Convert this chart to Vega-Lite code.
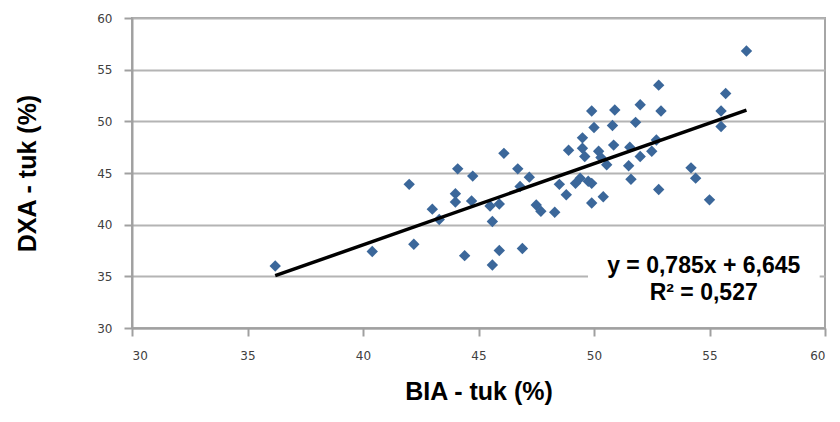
{
  "$schema": "https://vega.github.io/schema/vega-lite/v6.json",
  "width": 693,
  "height": 310,
  "autosize": "none",
  "padding": {"left": 132, "top": 18, "right": 15, "bottom": 94},
  "background": "white",
  "config": {
    "view": {"stroke": "#a6a6a6", "strokeWidth": 2},
    "axis": {
      "labelFont": "DejaVu Sans",
      "labelFontSize": 12,
      "labelColor": "#404040",
      "titleFont": "Liberation Sans",
      "titleFontWeight": "bold",
      "titleFontSize": 25,
      "titleColor": "#000000",
      "domainColor": "#a0a0a0",
      "domainWidth": 2,
      "tickColor": "#a0a0a0",
      "tickWidth": 2,
      "tickSize": 8,
      "gridColor": "#b4b4b4",
      "gridWidth": 2
    }
  },
  "datasets": {
    "points": [
      {"bia": 36.2, "dxa": 36.0}, {"bia": 40.4, "dxa": 37.4}, {"bia": 42.0, "dxa": 43.9},
      {"bia": 42.2, "dxa": 38.1}, {"bia": 43.0, "dxa": 41.5}, {"bia": 43.3, "dxa": 40.5},
      {"bia": 44.0, "dxa": 43.0}, {"bia": 44.0, "dxa": 42.2}, {"bia": 44.1, "dxa": 45.4},
      {"bia": 44.4, "dxa": 37.0}, {"bia": 44.75, "dxa": 44.7}, {"bia": 44.7, "dxa": 42.3},
      {"bia": 45.5, "dxa": 41.8}, {"bia": 45.6, "dxa": 40.3}, {"bia": 45.6, "dxa": 36.1},
      {"bia": 45.9, "dxa": 42.0}, {"bia": 45.9, "dxa": 37.5}, {"bia": 46.1, "dxa": 46.9},
      {"bia": 46.7, "dxa": 45.4}, {"bia": 46.8, "dxa": 43.7}, {"bia": 46.9, "dxa": 37.7},
      {"bia": 47.2, "dxa": 44.6}, {"bia": 47.5, "dxa": 41.9}, {"bia": 47.7, "dxa": 41.3},
      {"bia": 48.3, "dxa": 41.2}, {"bia": 48.5, "dxa": 43.9}, {"bia": 48.8, "dxa": 42.9},
      {"bia": 48.9, "dxa": 47.2}, {"bia": 49.2, "dxa": 44.0}, {"bia": 49.4, "dxa": 44.5},
      {"bia": 49.5, "dxa": 48.4}, {"bia": 49.5, "dxa": 47.4}, {"bia": 49.6, "dxa": 46.6},
      {"bia": 49.75, "dxa": 44.2}, {"bia": 49.9, "dxa": 44.0}, {"bia": 49.9, "dxa": 42.1},
      {"bia": 49.9, "dxa": 51.0}, {"bia": 50.0, "dxa": 49.4}, {"bia": 50.2, "dxa": 47.1},
      {"bia": 50.3, "dxa": 46.5}, {"bia": 50.4, "dxa": 42.7}, {"bia": 50.55, "dxa": 45.8},
      {"bia": 50.8, "dxa": 49.6}, {"bia": 50.85, "dxa": 47.7}, {"bia": 50.9, "dxa": 51.1},
      {"bia": 51.5, "dxa": 45.7}, {"bia": 51.55, "dxa": 47.5}, {"bia": 51.6, "dxa": 44.4},
      {"bia": 51.8, "dxa": 49.9}, {"bia": 52.0, "dxa": 51.6}, {"bia": 52.0, "dxa": 46.6},
      {"bia": 52.5, "dxa": 47.1}, {"bia": 52.7, "dxa": 48.2}, {"bia": 52.8, "dxa": 53.5},
      {"bia": 52.8, "dxa": 43.4}, {"bia": 52.9, "dxa": 51.0}, {"bia": 54.2, "dxa": 45.5},
      {"bia": 54.4, "dxa": 44.5}, {"bia": 55.0, "dxa": 42.4}, {"bia": 55.5, "dxa": 51.0},
      {"bia": 55.5, "dxa": 49.5}, {"bia": 55.7, "dxa": 52.7}, {"bia": 56.6, "dxa": 56.8}
    ],
    "trend": [
      {"bia": 36.2, "dxa": 35.06},
      {"bia": 56.6, "dxa": 51.08}
    ]
  },
  "layer": [
    {
      "data": {"name": "points"},
      "mark": {"type": "point", "shape": "diamond", "filled": true, "size": 130, "color": "#3b679a", "opacity": 1},
      "encoding": {
        "x": {
          "field": "bia", "type": "quantitative",
          "scale": {"domain": [30, 60], "nice": false, "zero": false},
          "axis": {"title": "BIA - tuk (%)", "values": [30, 35, 40, 45, 50, 55, 60], "grid": false, "labelPadding": 14, "titlePadding": 18}
        },
        "y": {
          "field": "dxa", "type": "quantitative",
          "scale": {"domain": [30, 60], "nice": false, "zero": false},
          "axis": {"title": "DXA - tuk (%)", "values": [30, 35, 40, 45, 50, 55, 60], "grid": true, "labelPadding": 12, "titlePadding": 56}
        }
      }
    },
    {
      "data": {"name": "trend"},
      "mark": {"type": "line", "color": "#000000", "strokeWidth": 3.5},
      "encoding": {
        "x": {"field": "bia", "type": "quantitative"},
        "y": {"field": "dxa", "type": "quantitative"}
      }
    },
    {
      "data": {"values": [{}]},
      "mark": {"type": "rect", "fill": "white"},
      "encoding": {
        "x": {"datum": 49.74}, "x2": {"datum": 59.77},
        "y": {"datum": 37.6}, "y2": {"datum": 32.3}
      }
    },
    {
      "data": {"values": [{}]},
      "mark": {
        "type": "text",
        "text": ["y = 0,785x  + 6,645", "R² = 0,527"],
        "font": "Liberation Sans",
        "fontWeight": "bold",
        "fontSize": 23,
        "lineHeight": 27,
        "align": "center",
        "baseline": "middle",
        "color": "#000000"
      },
      "encoding": {
        "x": {"datum": 54.75},
        "y": {"datum": 36.0}
      }
    }
  ]
}
